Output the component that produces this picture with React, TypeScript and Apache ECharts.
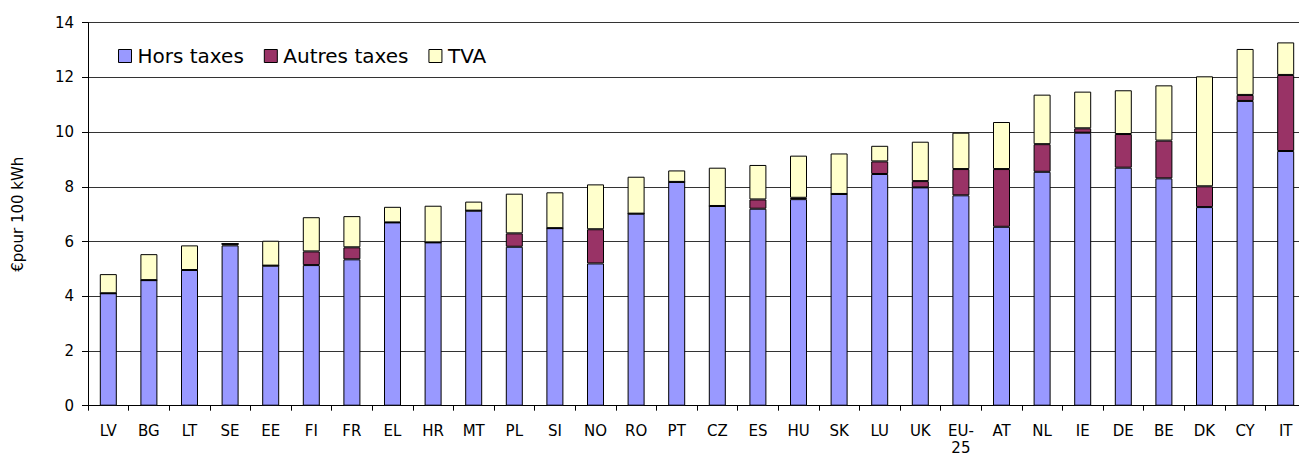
import React, { useEffect, useRef } from "react";
import * as echarts from "echarts";

const categories = ["LV","BG","LT","SE","EE","FI","FR","EL","HR","MT","PL","SI","NO","RO","PT","CZ","ES","HU","SK","LU","UK","EU-\n25","AT","NL","IE","DE","BE","DK","CY","IT"];
const horsTaxes = [4.11,4.59,4.96,5.86,5.12,5.14,5.35,6.70,5.97,7.13,5.81,6.49,5.20,7.02,8.18,7.30,7.20,7.55,7.74,8.47,7.98,7.69,6.54,8.55,9.98,8.70,8.31,7.26,11.14,9.31];
const autresTaxes = [0,0,0,0.06,0,0.50,0.44,0,0,0,0.49,0,1.25,0,0,0,0.34,0.05,0,0.46,0.23,0.96,2.11,1.01,0.16,1.23,1.38,0.76,0.22,2.78];
const tva = [0.70,0.95,0.90,0,0.91,1.25,1.14,0.57,1.34,0.33,1.45,1.31,1.64,1.35,0.42,1.40,1.26,1.54,1.48,0.57,1.44,1.33,1.72,1.81,1.34,1.60,2.02,4.02,1.68,1.19];
const yTicks = { min: 0, max: 14, interval: 2 };

const FONT = "DejaVu Sans";

export default function App() {
  const ref = useRef<HTMLDivElement>(null);
  useEffect(() => {
    if (!ref.current) return;
    const chart = echarts.init(ref.current, undefined, { renderer: "svg" });
    const barStyle = (color: string) => ({ color, borderColor: "#000", borderWidth: 1 });
    chart.setOption({
      animation: false,
      textStyle: { fontFamily: FONT },
      grid: { left: 88, top: 22.7, width: 1218, height: 383, containLabel: false, outerBoundsMode: "none" },
      legend: {
        left: 113,
        top: 41,
        itemWidth: 13,
        itemHeight: 13,
        itemGap: 20,
        textStyle: { fontFamily: FONT, fontSize: 20, color: "#000", padding: [0, 0, 0, 1] },
        data: [
          { name: "Hors taxes", icon: "rect", itemStyle: barStyle("#9999FF") },
          { name: "Autres taxes", icon: "rect", itemStyle: barStyle("#993366") },
          { name: "TVA", icon: "rect", itemStyle: barStyle("#FFFFCC") },
        ],
      },
      xAxis: {
        type: "category",
        data: categories,
        axisLine: { lineStyle: { color: "#000", width: 1 } },
        axisTick: { show: true, length: 5, alignWithLabel: false, lineStyle: { color: "#000" } },
        axisLabel: { interval: 0, fontFamily: FONT, fontSize: 15, color: "#000", margin: 16.8, lineHeight: 17 },
        splitLine: { show: false },
      },
      yAxis: {
        type: "value",
        min: yTicks.min,
        max: yTicks.max,
        interval: yTicks.interval,
        name: "€pour 100 kWh",
        nameLocation: "middle",
        nameGap: 63,
        nameTextStyle: { fontFamily: FONT, fontSize: 15, color: "#000" },
        axisLine: { show: true, lineStyle: { color: "#000", width: 1 } },
        axisTick: { show: true, length: 6, lineStyle: { color: "#000" } },
        axisLabel: { fontFamily: FONT, fontSize: 15, color: "#000", margin: 14 },
        splitLine: { show: true, lineStyle: { color: "#333", width: 1 } },
      },
      series: [
        { name: "Hors taxes", type: "bar", stack: "t", data: horsTaxes, barWidth: 17, itemStyle: barStyle("#9999FF") },
        { name: "Autres taxes", type: "bar", stack: "t", data: autresTaxes, barWidth: 17, itemStyle: barStyle("#993366") },
        { name: "TVA", type: "bar", stack: "t", data: tva, barWidth: 17, itemStyle: barStyle("#FFFFCC") },
      ],
    });
    return () => chart.dispose();
  }, []);
  return (
    <div
      ref={ref}
      style={{ position: "fixed", left: 0, top: 0, width: 1299, height: 457, background: "#fff" }}
    />
  );
}
